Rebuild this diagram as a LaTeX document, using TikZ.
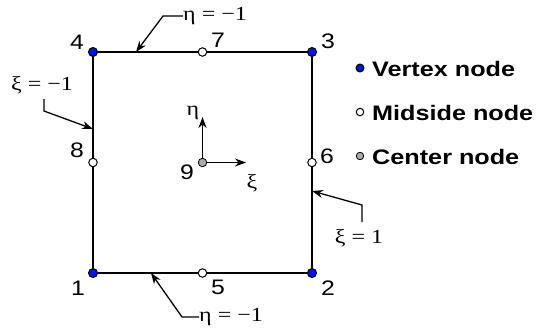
\documentclass[tikz,border=0pt]{standalone}
\usepackage{fontspec}
\setmainfont{Liberation Serif}
\newfontfamily\arialf{Liberation Sans}
\usetikzlibrary{arrows.meta}
\definecolor{vblue}{RGB}{0,20,230}
\definecolor{cgray}{RGB}{170,170,170}
\tikzset{
  vtx/.style={circle,draw=black,fill=vblue,line width=1pt,minimum size=9pt,inner sep=0pt},
  mid/.style={circle,draw=black,fill=white,line width=1pt,minimum size=8.5pt,inner sep=0pt},
  ctr/.style={circle,draw=black,fill=cgray,line width=0.8pt,minimum size=8.5pt,inner sep=0pt},
  lvtx/.style={vtx,minimum size=8pt},
  lmid/.style={mid,minimum size=7.5pt},
  lctr/.style={ctr,minimum size=7.5pt},
  edge/.style={line width=1.5pt},
  num/.style={font=\arialf\fontsize{21}{23}\selectfont,inner sep=0pt,xscale=1.18},
  leg/.style={font=\arialf\bfseries\fontsize{21}{23}\selectfont,inner sep=0pt,anchor=west,xscale=1.2},
  greek/.style={font=\fontsize{20}{22}\selectfont,inner sep=0pt,xscale=1.2},
  lead/.style={line width=1.3pt,-{Stealth[length=11pt,width=8pt]}},
  axis/.style={line width=1.8pt,-{Stealth[length=11pt,width=8pt]}}
}
\begin{document}
\begin{tikzpicture}[x=1pt,y=-1pt]
\useasboundingbox (0,0) rectangle (538,333);
% element nodes
\node[vtx] (n1) at (93,273) {};
\node[vtx] (n2) at (312,273) {};
\node[vtx] (n3) at (312,52) {};
\node[vtx] (n4) at (93,52) {};
\node[mid] (n5) at (202.5,273) {};
\node[mid] (n6) at (312,162.5) {};
\node[mid] (n7) at (202.5,52) {};
\node[mid] (n8) at (93,162.5) {};
\node[ctr] (n9) at (202.5,162.5) {};
% edges
\draw[edge] (n1) -- (n5) -- (n2) -- (n6) -- (n3) -- (n7) -- (n4) -- (n8) -- (n1);
% node numbers
\node[num] (l1) at (78,288) {1};
\node[num] (l2) at (328,288) {2};
\node[num] (l3) at (328,41) {3};
\node[num] (l4) at (77,42) {4};
\node[num] (l5) at (218,287) {5};
\node[num] (l6) at (327,156) {6};
\node[num] (l7) at (218,40) {7};
\node[num] (l8) at (77,150) {8};
\node[num] (l9) at (187,172) {9};
% local axes
\coordinate (eta) at (202.5,117);
\coordinate (xi) at (246,162.5);
\draw[axis] (n9) -- (eta);
\draw[axis] (n9) -- (xi);
\node[greek] (leta) at (193,113) {η};
\node[greek] (lxi) at (252,183) {ξ};
% boundary annotations
\node[greek,anchor=west] (t1) at (183,16) {η = −1};
\coordinate (c1) at (163,16);
\coordinate (a1) at (136,52);
\draw[lead] (t1.west) -- (c1) -- (a1);
\node[greek] (t2) at (42,85) {ξ = −1};
\coordinate (c2a) at (44,99);
\coordinate (c2) at (44,111);
\coordinate (a2) at (93,129);
\draw[lead] (c2a) -- (c2) -- (a2);
\node[greek] (t3) at (359,238) {ξ = 1};
\coordinate (c3a) at (362,222);
\coordinate (c3) at (362,205);
\coordinate (a3) at (312,191);
\draw[lead] (c3a) -- (c3) -- (a3);
\node[greek,anchor=west] (t4) at (199,317) {η = −1};
\coordinate (c4) at (182,317);
\coordinate (a4) at (151,273);
\draw[lead] (t4.west) -- (c4) -- (a4);
% legend
\node[lvtx] (g1) at (360,68) {};
\node[leg] (gt1) at (372,69) {Vertex node};
\node[lmid] (g2) at (360,112) {};
\node[leg] (gt2) at (372,113) {Midside node};
\node[lctr] (g3) at (360,156) {};
\node[leg] (gt3) at (372,157) {Center node};
\end{tikzpicture}
\end{document}
